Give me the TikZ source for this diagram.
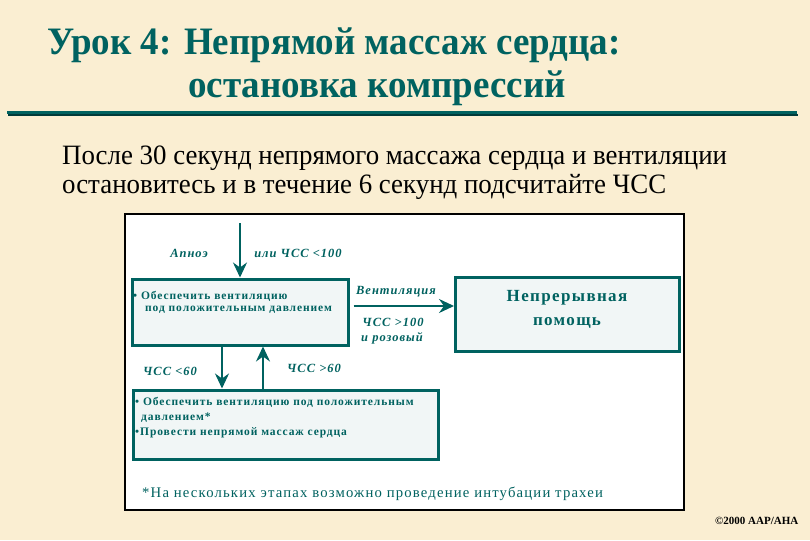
\documentclass[tikz,border=0pt]{standalone}
\usepackage{fontspec}
\setmainfont{Liberation Serif}
\newfontfamily\dfont[LetterSpace=8]{Liberation Serif}
\usetikzlibrary{arrows.meta}
\definecolor{teal1}{RGB}{0,98,96}
\definecolor{bgc}{RGB}{250,238,210}
\definecolor{boxfill}{RGB}{241,246,246}
\tikzset{
  flowbox/.style={draw=teal1, line width=3pt, fill=boxfill, inner sep=0pt},
  arr/.style={draw=teal1, line width=2pt, -{Stealth[length=15pt,width=14pt,inset=5pt]}},
  lbl/.style={text=teal1, font=\dfont\bfseries\itshape\fontsize{12.5}{14}\selectfont, inner sep=0pt},
  boxtxt/.style={text=teal1, font=\dfont\bfseries\fontsize{11.5}{15}\selectfont, inner sep=0pt, anchor=west},
  ttl/.style={anchor=west, text=teal1, font=\bfseries\fontsize{37}{40}\selectfont, inner sep=0pt},
  intro/.style={anchor=west, font=\fontsize{28}{32}\selectfont, inner sep=0pt},
}
\begin{document}
\begin{tikzpicture}[x=1pt,y=-1pt]
\fill[bgc] (0,0) rectangle (810,540);
\useasboundingbox (0,0) rectangle (810,540);
% title
\node[ttl] (t1) at (47,45) {\scalebox{1}[1.05]{Урок 4: Непрямой массаж сердца:}};
\node[ttl] (t2) at (188,88) {\scalebox{1}[1.05]{остановка компрессий}};
\draw[teal1!60!black, line width=2pt] (8,115) -- (798,115);
\draw[teal1, line width=3pt] (7,113) -- (797,113);
% intro text
\node[intro] (p1) at (62,158) {\scalebox{0.96}[1]{После 30 секунд непрямого массажа сердца и вентиляции}};
\node[intro] (p2) at (62,187) {\scalebox{0.96}[1]{остановитесь и в течение 6 секунд подсчитайте ЧСС}};
% panel
\draw[black, line width=1.3pt, fill=white] (125,214) rectangle (684,510);
% boxes
\node[flowbox, minimum width=216pt, minimum height=66pt] (b1) at (240,312) {};
\node[flowbox, minimum width=224pt, minimum height=74pt] (b2) at (567.5,314.5) {};
\node[flowbox, minimum width=305pt, minimum height=69pt] (b3) at (285.5,424.5) {};
% box texts
\node[align=center, text=teal1, font=\dfont\bfseries\fontsize{17}{24}\selectfont, inner sep=0pt] (b2t) at (567,309) {Непрерывная\\помощь};
\node[boxtxt] (b1a) at (133,296) {\textbullet\ Обеспечить вентиляцию};
\node[boxtxt] (b1b) at (145,310) {под положительным давлением};
\node[boxtxt] (b3a) at (135,402) {\textbullet\ Обеспечить вентиляцию под положительным};
\node[boxtxt] (b3b) at (141,418) {давлением*};
\node[boxtxt] (b3c) at (135,433) {\textbullet Провести непрямой массаж сердца};
% arrows
\coordinate (top) at (240,223);
\draw[arr] (top) -- (b1.north);
\draw[arr] (b1.south -| 222,0) -- (b3.north -| 222,0);
\draw[arr] (b3.north -| 263,0) -- (b1.south -| 263,0);
\draw[arr] ([xshift=4pt]b1.east |- 0,306) -- (b2.west |- 0,306);
% labels
\node[lbl] (l1) at (189,253) {Апноэ};
\node[lbl] (l2) at (298,253) {или ЧСС <100};
\node[lbl] (l3) at (396,292) {Вентиляция};
\node[lbl] (l4) at (393,322) {ЧСС >100};
\node[lbl] (l5) at (392,338) {и розовый};
\node[lbl] (l6) at (170,371) {ЧСС <60};
\node[lbl] (l7) at (314,368) {ЧСС >60};
% note
\node[anchor=west, text=teal1, font=\dfont\fontsize{14.7}{18}\selectfont, inner sep=0pt] (note) at (142,494) {*На нескольких этапах возможно проведение интубации трахеи};
\node[anchor=west, font=\bfseries\fontsize{11}{14}\selectfont, inner sep=0pt] (copy) at (715,521) {©2000 AAP/AHA};
\end{tikzpicture}
\end{document}
